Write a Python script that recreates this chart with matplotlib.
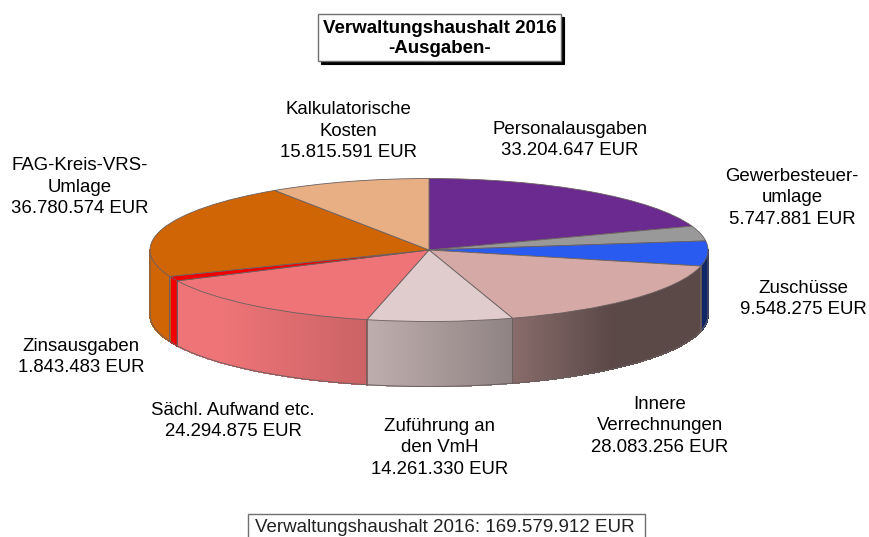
import numpy as np
import matplotlib
matplotlib.use('Agg')
import matplotlib.pyplot as plt
from matplotlib.collections import PolyCollection
from matplotlib.patches import Rectangle

plt.rcParams['font.family'] = ['Liberation Sans', 'DejaVu Sans']

W, H = 869, 537

# Daten
names = ['Personalausgaben', 'Gewerbesteuer-\numlage', 'Zuschüsse', 'Innere\nVerrechnungen',
         'Zuführung an\nden VmH', 'Sächl. Aufwand etc.', 'Zinsausgaben',
         'FAG-Kreis-VRS-\nUmlage', 'Kalkulatorische\nKosten']
values = [33204647, 5747881, 9548275, 28083256, 14261330, 24294875, 1843483, 36780574, 15815591]
total = 169579912
colors = ['#6A2A90', '#999999', '#2A5BF0', '#D4A9A6', '#E0CCCC', '#EE7477', '#F00000', '#D06505', '#E8AF85']

# Beschriftung (Pixelposition)
label_x = [570, 792, 803, 660, 440, 233, 81, 80, 348]
label_y = [140, 198, 299, 426, 448, 421, 357, 187, 131]

# Geometrie der Ellipse in Pixeln
cx, cy, rx, ry = 429, 250, 279, 71.5
depth = 65 / ry
edge = '#6A6060'

# Helligkeit der Seitenwand ueber x
shade_x = [-1, -0.75, -0.22, 0.30, 0.65, 1]
shade_f = [1, 1, 0.85, 0.64, 0.43, 0.43]


def fmt(v):
    return f'{v:,}'.replace(',', '.')


fig = plt.figure(figsize=(W / 100, H / 100), dpi=100)
ax = fig.add_axes([0, 0, 1, 1])

# Oberseite
ax.pie(values, colors=colors, startangle=90, counterclock=False, radius=1,
       wedgeprops={'edgecolor': edge, 'linewidth': 0.6, 'zorder': 5})
ax.set_aspect('auto')
ax.set_xlim(-cx / rx, (W - cx) / rx)
ax.set_ylim((cy - H) / ry, cy / ry)
ax.axis('off')

# Seitenwand, nur die vordere Haelfte (-180 bis 0 Grad)
cum = np.cumsum([0] + values) / sum(values)
for i, col in enumerate(colors):
    hi = min(90 - 360 * cum[i], 0)
    lo = max(90 - 360 * cum[i + 1], -180)
    if hi <= lo:
        continue
    t = np.radians(np.linspace(hi, lo, 200))
    x, y = np.cos(t), np.sin(t)
    rgb = np.array(matplotlib.colors.to_rgb(col))
    # Grundflaeche, damit zwischen den schmalen Streifen nichts durchscheint
    ax.fill(np.r_[x, x[::-1]], np.r_[y, y[::-1] - depth],
            color=rgb * np.interp(x.mean(), shade_x, shade_f), lw=0, zorder=1.5)
    polys, cols = [], []
    for j in range(len(t) - 1):
        polys.append([(x[j], y[j]), (x[j + 1], y[j + 1]),
                      (x[j + 1], y[j + 1] - depth), (x[j], y[j] - depth)])
        cols.append(rgb * np.interp((x[j] + x[j + 1]) / 2, shade_x, shade_f))
    ax.add_collection(PolyCollection(polys, facecolors=cols, edgecolors='face',
                                     linewidths=0.5, antialiaseds=False, zorder=2))
    ax.plot(x, y - depth, color=edge, lw=0.7, zorder=3)
    for k in (0, -1):
        ax.plot([x[k], x[k]], [y[k], y[k] - depth], color=edge, lw=0.7, snap=False, zorder=3)

# Texte und Rahmen in Pixelkoordinaten
ov = fig.add_axes([0, 0, 1, 1])
ov.set_xlim(0, W)
ov.set_ylim(H, 0)
ov.axis('off')
ov.patch.set_alpha(0)

for name, v, lx, ly in zip(names, values, label_x, label_y):
    ov.text(lx, ly, name + '\n' + fmt(v) + ' EUR', ha='center', va='center',
            fontsize=13.4, linespacing=1.36, color='black')

# Titel
ov.add_patch(Rectangle((321, 17), 243, 47, fc='black', ec='black', lw=0.8, zorder=1))
ov.add_patch(Rectangle((318, 14), 243, 47, fc='white', ec='#707070', lw=1, zorder=2))
ov.text(439.5, 38.5, 'Verwaltungshaushalt 2016\n-Ausgaben-', ha='center', va='center',
        fontsize=13.5, fontweight='bold', linespacing=1.3, color='black', zorder=3)

# Summe
ov.add_patch(Rectangle((248, 514), 397, 40, fc='white', ec='#707070', lw=1, zorder=2))
ov.text(444.5, 527, f'Verwaltungshaushalt 2016: {fmt(total)} EUR', ha='center', va='center',
        fontsize=13.5, color='#222222', zorder=3)

fig.savefig('out.png', dpi=100)
